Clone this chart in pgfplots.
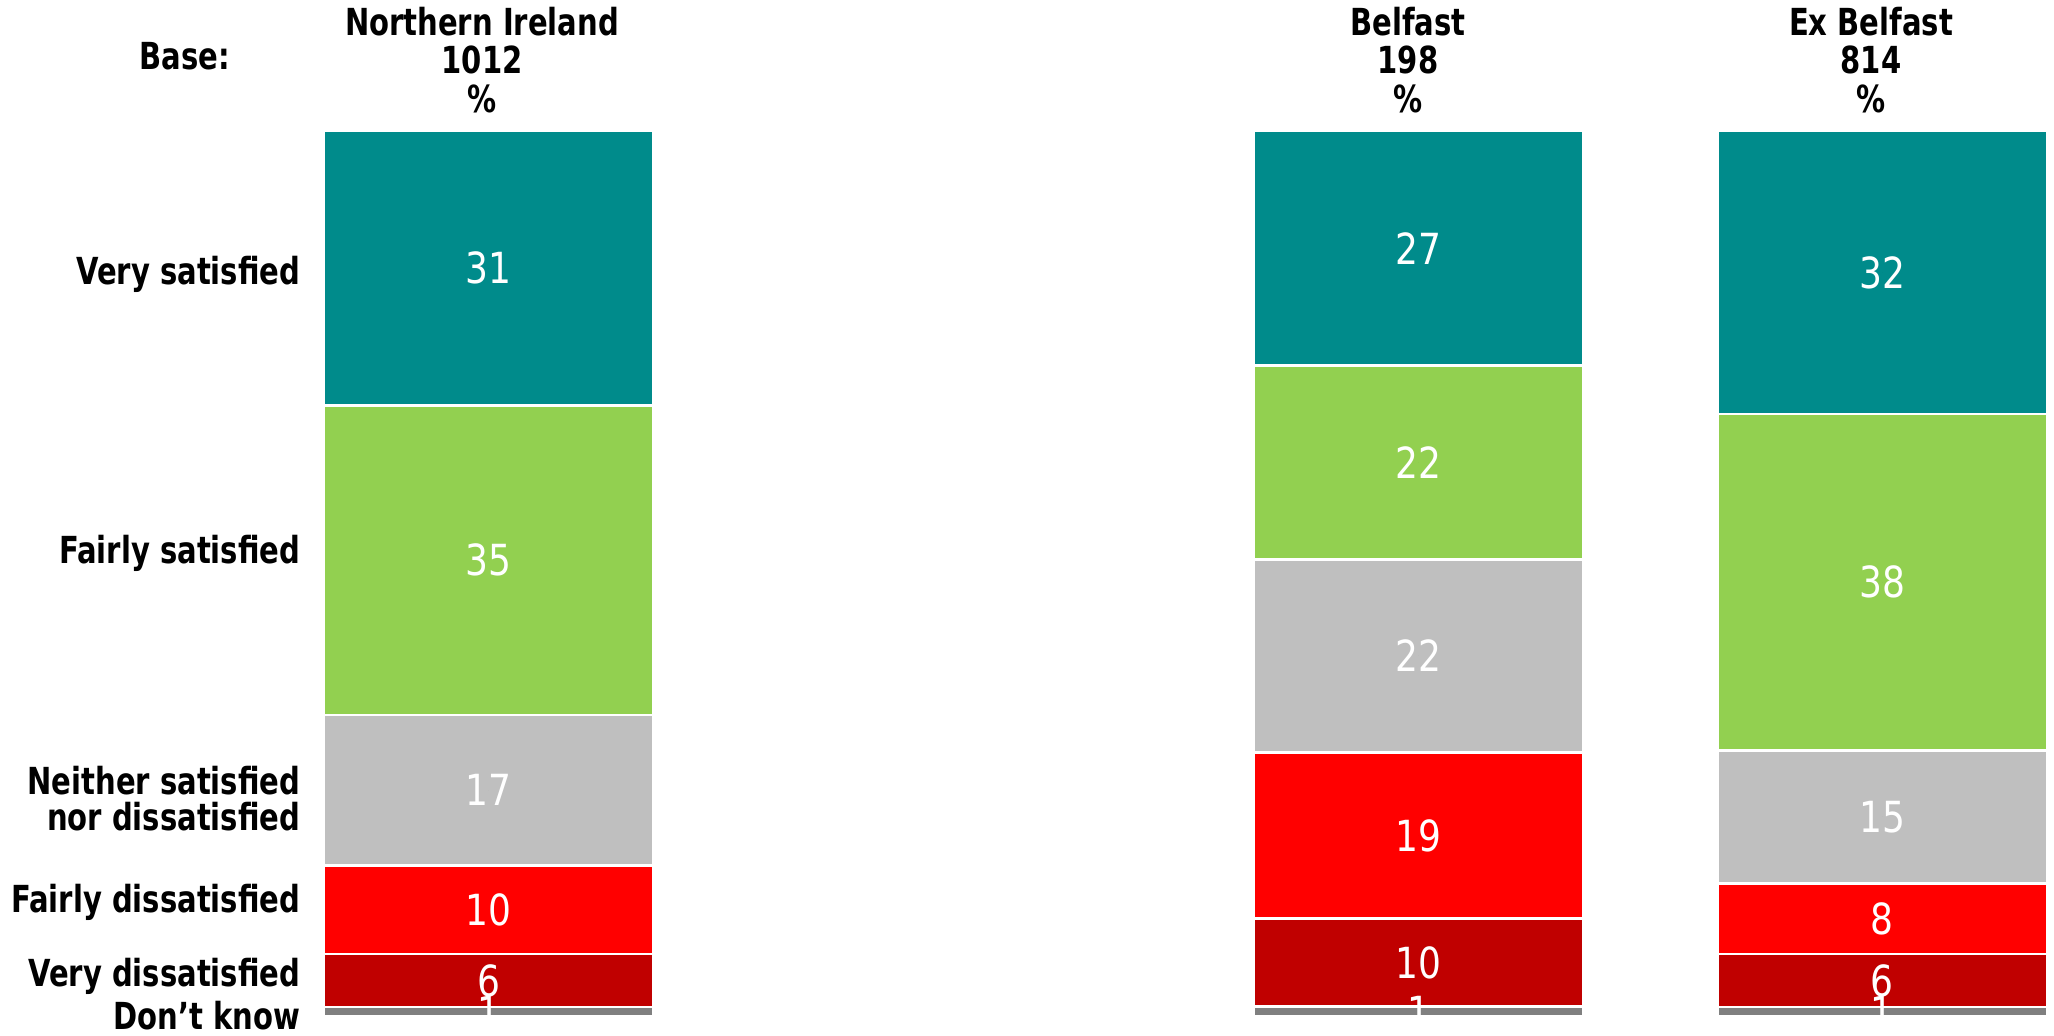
\documentclass[border=0pt]{standalone}
\usepackage{pgfplots}
\pgfplotsset{compat=1.18}
\usepackage{pgfplotstable}
\usepackage{fontspec}
\setmainfont{DejaVu Sans}
\newfontfamily\labfont{DejaVu Sans}[FakeStretch=0.78]
\newfontfamily\valfont{DejaVu Sans}[FakeStretch=0.84]

\definecolor{cVS}{HTML}{008B8B}
\definecolor{cFS}{HTML}{92D050}
\definecolor{cN}{HTML}{BFBFBF}
\definecolor{cFD}{HTML}{FF0000}
\definecolor{cVD}{HTML}{C00000}
\definecolor{cDK}{HTML}{808080}

% heights (bottom to top): Don't know, Very dis, Fairly dis, Neither, Fairly sat, Very sat
\pgfplotstableread{
x      dk   vd   fd    ne    fs    vs
488.7  1    6    10    17    35    31
1418.7 1.1  9.9  18.8  21.8  21.9  26.5
1882.3 1    6    8     15    38    32
}\bars

\pgfplotstableread{
x      y      lab
488.7  0.5    1
488.7  4      6
488.7  12     10
488.7  25.5   17
488.7  51.5   35
488.7  84.5   31
1418.7 0.5    1
1418.7 6.05   10
1418.7 20.4   19
1418.7 40.7   22
1418.7 62.55  22
1418.7 86.75  27
1882.3 0.5    1
1882.3 4      6
1882.3 11     8
1882.3 22.5   15
1882.3 49     38
1882.3 84     32
}\vals

\newcommand{\lab}{\labfont\bfseries\fontsize{10.6}{10.3}\selectfont}

\begin{document}
\begin{tikzpicture}
\useasboundingbox (0,0) rectangle (205.4mm,103.5mm);
\pgfplotsset{base/.style={
  scale only axis, width=205.4mm, height=88.5mm,
  at={(0mm,1.9mm)}, anchor=south west,
  xmin=0, xmax=2054, ymin=0, ymax=100,
  axis lines=none, clip=false}}
\begin{axis}[base, ybar stacked, bar width=33mm,
  every axis plot/.append style={draw=white, line width=0.25mm}]
\addplot[fill=cDK] table[x=x,y=dk]{\bars};
\addplot[fill=cVD] table[x=x,y=vd]{\bars};
\addplot[fill=cFD] table[x=x,y=fd]{\bars};
\addplot[fill=cN]  table[x=x,y=ne]{\bars};
\addplot[fill=cFS] table[x=x,y=fs]{\bars};
\addplot[fill=cVS] table[x=x,y=vs]{\bars};
% category labels
\tikzset{cat/.style={anchor=mid east,font=\lab,inner sep=0pt}}
\node[cat] at (axis cs:301,83.7) {Very satisfied};
\node[cat] at (axis cs:301,52.2) {Fairly satisfied};
\node[anchor=east,font=\lab,align=right,inner sep=0pt] at (axis cs:301,24.6) {Neither satisfied\\nor dissatisfied};
\node[cat] at (axis cs:301,12.8) {Fairly dissatisfied};
\node[cat] at (axis cs:301,4.4) {Very dissatisfied};
\node[cat] at (axis cs:301,-0.45) {Don’t know};
% headers
\tikzset{hd/.style={anchor=mid,font=\lab,inner sep=0pt}}
\node[hd] at (axis cs:185,108.0) {Base:};
\node[hd] at (axis cs:482,111.9) {Northern Ireland};
\node[hd] at (axis cs:482,107.6) {1012};
\node[hd] at (axis cs:482,103.2) {\%};
\node[hd] at (axis cs:1408,111.9) {Belfast};
\node[hd] at (axis cs:1408,107.6) {198};
\node[hd] at (axis cs:1408,103.2) {\%};
\node[hd] at (axis cs:1871,111.9) {Ex Belfast};
\node[hd] at (axis cs:1871,107.6) {814};
\node[hd] at (axis cs:1871,103.2) {\%};
\end{axis}
\begin{axis}[base]
\addplot[only marks, mark=*, mark size=0pt, mark options={draw=none,fill=none},
  nodes near coords, point meta=explicit symbolic,
  nodes near coords style={anchor=center, text=white, inner sep=0pt,
    font=\valfont\fontsize{12.2}{13}\selectfont}]
  table[x=x,y=y,meta=lab]{\vals};
\end{axis}
\end{tikzpicture}
\end{document}
